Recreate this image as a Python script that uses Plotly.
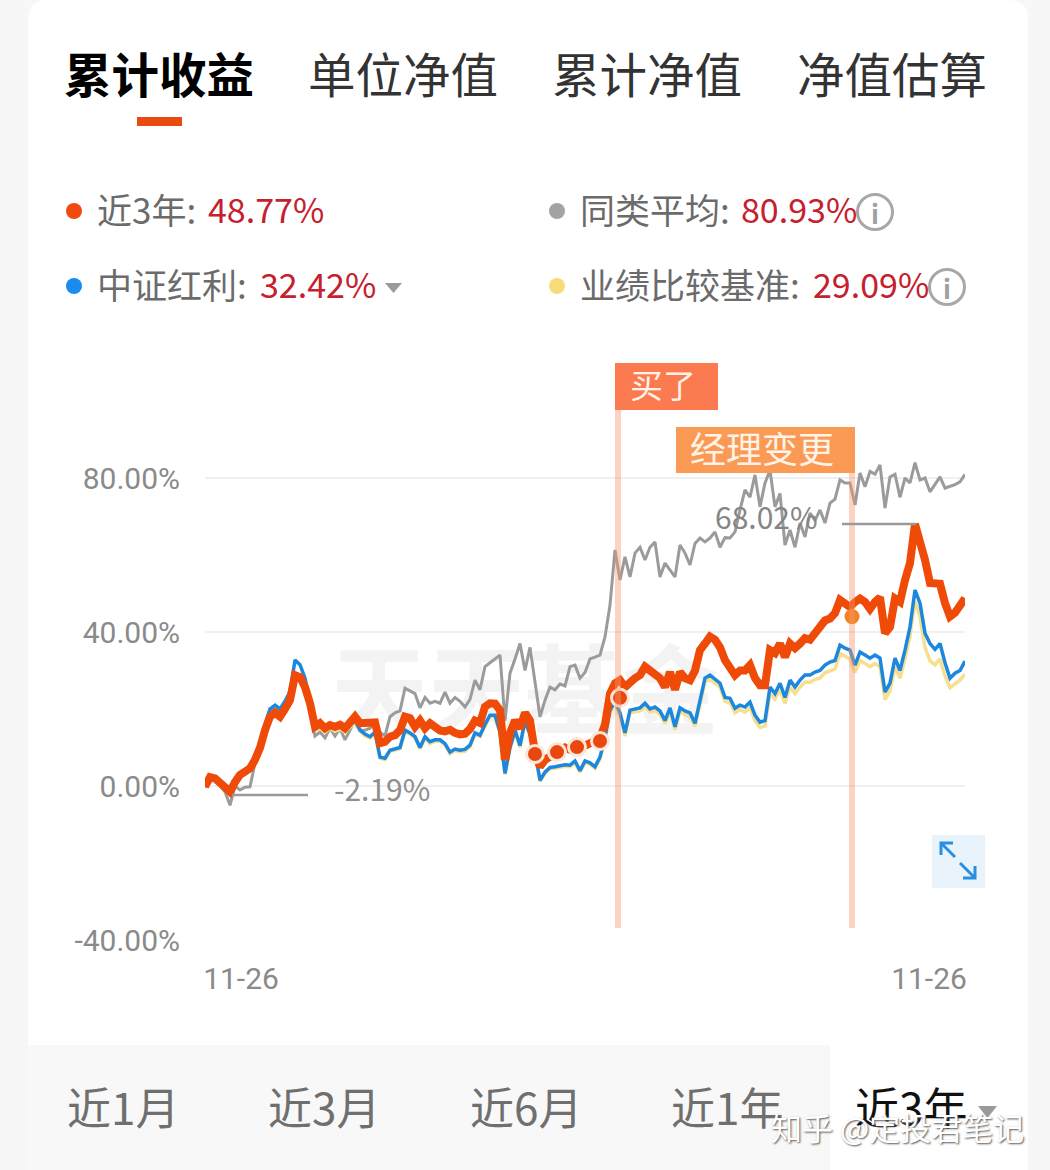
"""累计收益 chart from a fund app screenshot, rebuilt with Plotly."""

import plotly.graph_objects as go

WIDTH, HEIGHT = 1050, 1170
CJK = "Noto Sans CJK SC"

FUND = [
    -0.2, 2.3, 2.0, 0.8, -0.3, -1.5, 1.0, 2.9, 3.7, 4.6,
    6.8, 9.9, 14.5, 18, 19, 18, 20, 22.3, 28.8, 28.3,
    25.7, 21.5, 15.4, 16.3, 15, 15.8, 15.4, 15.9, 15, 16.3,
    18, 16.3, 16.3, 16.0, 16.5, 11.1, 11.5, 12.8, 13.2, 14.5,
    18, 17.6, 15.4, 17, 15, 16.3, 15, 14.4, 14.2, 14.6,
    13.8, 13.4, 13.6, 14.8, 17, 16.4, 20.6, 21.5, 21.4, 19.7,
    6.8, 13.8, 17, 15, 19, 17, 8.6, 5, 6.8, 7.5,
    8.5, 8.8, 10, 9.4, 10, 10.2, 10.5, 11, 11.6, 12.4,
    16, 24, 26.7, 27.5, 25.7, 27, 28, 28.8, 31, 30,
    29, 28, 25.7, 29.6, 25, 29.6, 28, 27.5, 30, 35.3,
    37, 38.8, 38, 36, 32.7, 31, 28.8, 30, 30, 31.4,
    28, 26.2, 26.2, 35.3, 34.5, 37, 33.5, 37, 35.8, 37,
    38.4, 38, 39.7, 41, 43, 43.5, 44.9, 48.3, 47.5, 46.5,
    47.8, 48.7, 47.8, 46, 47.8, 49, 39.7, 41.3, 48.7, 47.8,
    53.5, 57.9, 68.02, 63.9, 58.7, 52.7, 52.7, 52.5, 47.5, 44,
    45, 46.5, 48.77,
]
PEERS = [
    -0.4, 2, 1.6, 0.2, -1.5, -5, 0, -1, -0.3, -0.2,
    6, 9, 15, 20, 20, 19, 19, 22, 28, 28,
    25, 20, 13, 14, 12.5, 15, 13, 15, 12, 14.5,
    17.5, 14.5, 14.5, 15, 16.5, 14, 13, 18, 19, 19.5,
    25.4, 24.6, 24, 20.3, 23, 21.5, 22, 21.5, 24.4, 21.5,
    23, 22, 20.5, 22.5, 27.5, 25, 31, 32, 33, 34,
    17, 29.3, 33, 37, 30, 36, 27, 18, 22.3, 25.7,
    25, 26.5, 26, 31, 31.4, 28, 29.5, 33, 33.5, 34,
    38.7, 47, 61.3, 53.5, 59.5, 54.3, 60.5, 62, 58.7, 62,
    63.4, 54.3, 57.9, 56, 54.3, 62.6, 60.5, 57.4, 63, 64.4,
    63.4, 64.4, 66, 62, 64.5, 64.4, 66, 71.7, 76.9, 75,
    80.8, 72.5, 78.7, 82, 72.5, 76, 62.6, 66.5, 62, 68.3,
    64.7, 70.9, 69, 71.7, 68.3, 73.5, 74.5, 79.5, 78.7, 78.7,
    73, 81.3, 77.7, 81.7, 81, 83.4, 72.2, 80.3, 81, 75,
    80, 78.7, 84, 79.5, 80, 76.4, 78.5, 80.3, 77.4, 77.8,
    78.3, 79, 80.93,
]
INDEX_CSI = [
    -0.2, 2.4, 2.1, 0.9, -0.2, -1.2, 1.2, 3, 3.8, 5,
    7.5, 11, 16, 20, 21, 20, 22, 24.5, 32.7, 31.5,
    28, 22, 15, 15.5, 14.5, 15.5, 14.8, 15.4, 14.5, 15.8,
    17, 14.5, 13.5, 12.8, 14, 7.5, 7.2, 9.3, 9.6, 10,
    14.5, 13.8, 12.8, 10, 12.8, 11.5, 12, 12, 11, 8.8,
    9.6, 9.3, 9.5, 10.6, 13.8, 13.2, 16, 18.4, 18.4, 14,
    3.3, 10, 14.5, 10.5, 17, 13.5, 9, 1.5, 3.6, 4.8,
    5, 5.2, 5.5, 5.4, 6.5, 4, 6.5, 6, 5, 7.5,
    12.7, 19.7, 22, 19, 13.8, 19.7, 20, 20.3, 21.5, 20,
    20.5, 19.5, 17, 20.3, 15.4, 20.3, 19.5, 19, 16.3, 22.3,
    28, 28.8, 27.8, 26.7, 23, 22.8, 20.2, 21, 20.5, 21.8,
    18.4, 16.6, 17, 25.7, 24, 26.7, 23, 27.5, 25.7, 27.5,
    28.8, 28.8, 29.6, 30, 31.4, 32.2, 32.6, 36.6, 35.8, 35.3,
    31.4, 34.8, 34, 33.2, 34, 33.2, 24.4, 26.7, 33.2, 30,
    35.3, 41.3, 50.9, 47.5, 39.7, 37, 35.5, 37, 32, 28,
    29.3, 30, 32.42,
]
BENCHMARK = [
    -0.2, 2.1, 1.8, 0.7, -0.3, -1.4, 0.9, 2.6, 3.4, 4.4,
    6.7, 9.7, 14.4, 18, 19, 18, 20, 22.3, 29, 28.5,
    25.5, 20.5, 14.5, 15, 14, 15, 14.2, 14.8, 14, 15.2,
    16.5, 14.2, 13, 12.4, 13.5, 7.2, 6.9, 9, 9.3, 9.7,
    14, 13.5, 12.4, 9.7, 12.4, 11, 11.6, 11.6, 10.6, 8.4,
    9.2, 8.9, 9, 10.2, 13.4, 12.8, 15.5, 18, 18, 13.5,
    3, 9.6, 14, 10, 16.5, 13, 8.5, 1.2, 3.2, 4.4,
    4.6, 4.8, 5.1, 5, 6, 3.6, 6, 5.6, 4.6, 7,
    12, 19, 21, 18, 13, 19, 19.2, 19.5, 20.5, 19.2,
    19.6, 18.6, 16.2, 19.4, 14.6, 19.4, 18.6, 18, 15.5, 21.4,
    27, 27.8, 26.8, 25.6, 22, 21.6, 19, 19.8, 19.2, 20.4,
    17, 15.2, 15.6, 24, 22.6, 25, 21.4, 25.8, 24, 25.7,
    27, 26.9, 27.7, 28, 29.4, 30, 30.4, 34.4, 33.6, 33,
    29.5, 32.6, 31.8, 31, 31.8, 31, 22.4, 24.7, 31, 28,
    33, 39, 48, 44, 36, 32.5, 31.5, 33, 28.6, 25.5,
    26.5, 27.5, 29.09,
]
DAYS = list(range(len(FUND)))

BUY_DAYS = [66, 70.4, 74.4, 79, 83]
BUY_VALUES = [8.3, 8.8, 10.1, 11.7, 22.9]
MANAGER_DAY = [129.4]
MANAGER_VALUE = [44]
BUY_LINE_DAY = 82.6
MANAGER_LINE_DAY = 129.4

Y_TICKS = [-40, 0, 40, 80]
Y_LABELS = ["-40.00%", "0.00%", "40.00%", "80.00%"]
X_TICKS = [7.2, 144.8]
X_LABELS = ["11-26", "11-26"]

TABS = ["累计收益", "单位净值", "累计净值", "净值估算"]
RANGES = ["近1月", "近3月", "近6月", "近1年", "近3年"]
LEGEND = [
    ("近3年:", "48.77%", "#f04a10"),
    ("同类平均:", "80.93%", "#a3a3a3"),
    ("中证红利:", "32.42%", "#1a8cf0"),
    ("业绩比较基准:", "29.09%", "#f8dc7a"),
]


def px(x):
    return x / WIDTH


def py(y):
    return 1 - y / HEIGHT


def text(fig, x, y, s, size, color, anchor="left", **font):
    fig.add_annotation(
        x=px(x), y=py(y), xref="paper", yref="paper", text=s, showarrow=False,
        xanchor=anchor, yanchor="middle", borderpad=0,
        font=dict(family=CJK, size=size, color=color, **font),
    )


def rect(fig, x0, y0, x1, y1, color, layer="below"):
    fig.add_shape(type="rect", xref="paper", yref="paper", x0=px(x0), x1=px(x1),
                  y0=py(y0), y1=py(y1), fillcolor=color, line_width=0, layer=layer)


def dot(fig, x, y, r, fill, line_color=None):
    fig.add_shape(type="circle", xref="paper", yref="paper", x0=px(x - r), x1=px(x + r),
                  y0=py(y - r), y1=py(y + r), fillcolor=fill, layer="above",
                  line=dict(color=line_color or fill, width=3 if line_color else 0))


def path(fig, points, color=None, fill=None, width=3):
    d = "M" + " L".join(f"{px(x):.5f},{py(y):.5f}" for x, y in points)
    if fill:
        d += " Z"
    fig.add_shape(type="path", xref="paper", yref="paper", path=d, layer="above",
                  fillcolor=fill, line=dict(color=color or fill, width=width if color else 0))


fig = go.Figure()

# watermark sits below the curves, so it goes in as the first trace
fig.add_trace(go.Scatter(x=[64], y=[22], mode="text", text=["<b>天天基金</b>"], hoverinfo="skip",
                         textfont=dict(family=CJK, size=97, color="#f3f3f3"), showlegend=False))
fig.add_trace(go.Scatter(x=DAYS, y=PEERS, mode="lines", line=dict(color="#9b9b9b", width=3), name="同类平均"))
fig.add_trace(go.Scatter(x=DAYS, y=BENCHMARK, mode="lines", line=dict(color="#f6df8e", width=3.5), name="业绩比较基准"))
fig.add_trace(go.Scatter(x=DAYS, y=INDEX_CSI, mode="lines", line=dict(color="#1b87de", width=3.5), name="中证红利"))
fig.add_trace(go.Scatter(x=DAYS, y=FUND, mode="lines", line=dict(color="#f04a08", width=8), name="近3年"))
fig.add_trace(go.Scatter(x=BUY_DAYS, y=BUY_VALUES, mode="markers", name="买入",
                         marker=dict(color="#e8470f", size=17, line=dict(color="#fbe6d8", width=3))))
fig.add_trace(go.Scatter(x=MANAGER_DAY, y=MANAGER_VALUE, mode="markers", name="经理变更",
                         marker=dict(color="#f58220", size=15)))

# card with rounded top corners, and bottom bar
fig.add_shape(
    type="path", xref="paper", yref="paper", layer="below", fillcolor="#ffffff", line_width=0,
    path=(f"M{px(28)},{py(1190)} L{px(28)},{py(20)} Q{px(28)},{py(0)} {px(48)},{py(0)} "
          f"L{px(1008)},{py(0)} Q{px(1028)},{py(0)} {px(1028)},{py(20)} L{px(1028)},{py(1190)} Z"),
)
rect(fig, 28, 1045, 830, 1190, "#f8f8f8")

# event lines over the curves
for day, top in [(BUY_LINE_DAY, 410), (MANAGER_LINE_DAY, 473)]:
    fig.add_shape(type="line", x0=day, x1=day, xref="x", yref="paper", y0=py(928), y1=py(top),
                  line=dict(color="rgba(248,150,110,0.42)", width=6), layer="above")
rect(fig, 615, 363, 718, 410, "#fb7a50", layer="above")
rect(fig, 676, 427, 855, 473, "#fb9a55", layer="above")
text(fig, 663, 384, "买了", 33, "#fff3e8", anchor="center")
text(fig, 762, 447, "经理变更", 36, "#fff3e8", anchor="center")

# max / min callouts
path(fig, [(842, 524), (916, 524)], color="#9a9a9a", width=2.5)
text(fig, 714, 516, "68.02%", 30, "#858585")
path(fig, [(232, 795), (308, 795)], color="#9a9a9a", width=2.5)
text(fig, 333, 788, "-2.19%", 30, "#8f8f8f")

# top tabs
for name, x in zip(TABS, [63, 307, 551, 796]):
    if name == TABS[0]:
        text(fig, x, 72, f"<b>{name}</b>", 47.5, "#000000")
    else:
        text(fig, x, 72, name, 47.5, "#333333")
rect(fig, 137, 117, 182, 126, "#e84a10", layer="above")

# legend rows
positions = [(74, 211), (557, 211), (74, 286), (557, 286)]
value_x = [207, 740, 259, 812]
for (label, value, color), (x, y), vx in zip(LEGEND, positions, value_x):
    dot(fig, x, y, 8, color)
    text(fig, x + 22, y - 3, label, 35, "#6b6b6b")
    text(fig, vx, y - 3, value, 34, "#c5202d")
for x, y in [(875, 212), (947, 287)]:
    dot(fig, x, y, 17.5, "rgba(255,255,255,0)", "#a8a8a8")
    text(fig, x, y, "<b>i</b>", 26, "#a0a0a0", anchor="center")
path(fig, [(385, 283), (402, 283), (393.5, 293)], fill="#9a9a9a")

# expand button
rect(fig, 932, 835, 985, 888, "#e8f3fc", layer="above")
path(fig, [(941, 855), (941, 843), (953, 843)], color="#2a8fe0")
path(fig, [(941, 843), (955, 857)], color="#2a8fe0")
path(fig, [(975, 866), (975, 878), (963, 878)], color="#2a8fe0")
path(fig, [(975, 878), (960, 863)], color="#2a8fe0")

# range selector
for name, x in zip(RANGES, [66, 267, 469, 670, 854]):
    color = "#111111" if x == 854 else "#6f6f6f"
    text(fig, x, 1106, name, 44, color)
path(fig, [(978, 1106), (997, 1106), (987.5, 1118)], fill="#9a9a9a")

text(fig, 770, 1126, "知乎 @定投君笔记", 31, "#ffffff", shadow="1px 1px 2px #555555")

# y range runs past 80 so the peers line is not cut at the top gridline
fig.update_layout(
    width=WIDTH, height=HEIGHT, margin=dict(l=0, r=0, t=0, b=0, autoexpand=False),
    paper_bgcolor="#f7f7f7", plot_bgcolor="rgba(0,0,0,0)", showlegend=False,
    xaxis=dict(domain=[px(205), px(965)], range=[0, len(DAYS) - 1], showgrid=False, zeroline=False,
               tickmode="array", tickvals=X_TICKS, ticktext=X_LABELS, ticks="outside",
               ticklen=12, tickcolor="rgba(0,0,0,0)", anchor="y",
               tickfont=dict(family="Roboto", size=30, color="#8a8a8a")),
    yaxis=dict(domain=[py(940), py(439.5)], range=[-40, 90], gridcolor="#f0f0f0", gridwidth=2,
               zeroline=False, tickmode="array", tickvals=Y_TICKS, ticktext=Y_LABELS,
               ticks="outside", ticklen=18, tickcolor="rgba(0,0,0,0)", anchor="x",
               tickfont=dict(family="Roboto", size=30, color="#8a8a8a")),
)

# the page's default body margin would shift the whole figure by 8px
fig.write_html("out.html", config={"displayModeBar": False},
               post_script="document.body.style.margin='0';")
